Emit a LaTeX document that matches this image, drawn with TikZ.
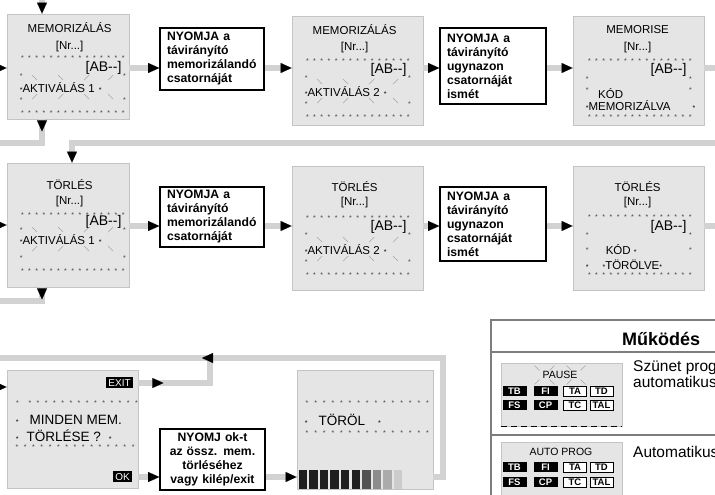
\documentclass[tikz,border=0pt]{standalone}
\usepackage{fontspec}
\setmainfont{Liberation Sans}
\usepackage{xcolor}
\definecolor{lcdg}{RGB}{229,229,229}
\definecolor{lcdb}{RGB}{196,196,196}
\definecolor{flowg}{RGB}{210,210,210}
\definecolor{frameg}{RGB}{125,125,125}
\usetikzlibrary{arrows.meta}

\newcommand{\lcdfont}{\fontsize{11.5}{13}\selectfont}
\newcommand{\bigfont}{\fontsize{13.5}{15}\selectfont}
\newcommand{\astfont}{\fontsize{7}{7}\selectfont}
\newcount\starcnt
\newcommand{\stars}[2]{\starcnt=#1\relax
  \loop\makebox[#2]{*}\advance\starcnt by -1\relax\ifnum\starcnt>0\repeat}
\newcommand{\blinkmarks}[3]{%
  \foreach \x/\d in {#3}{%
    \draw[blink] (\x-2.5,#1-2.5*\d) -- (\x+2.5,#1+2.5*\d);
    \draw[blink] (\x-2.5,#2+2.5*\d) -- (\x+2.5,#2-2.5*\d);}}
% screen with the blinking AKTIVALAS line
\newcommand{\aktscreen}[9]{%
  \begin{scope}[shift={(#1.north west)}]
    \node[lcdtext] (#1-title) at (63,#4) {#2};
    \node[lcdtext] (#1-nr) at (63,#5) {[Nr...]};
    \node[astx, anchor=west] (#1-row1) at (12,#6) {\stars{15}{7.2pt}};
    \node[abtext] (#1-ab) at (115,#7) {[AB{-}{-}]};
    \node[astx, anchor=west, text width=106pt] (#1-side1) at (13,#7+8) {*\hfill*};
    \node[lcdtext, anchor=west] (#1-key) at (13,#8) {\astfont*\lcdfont AKTIVÁLÁS #3\hspace{4pt}\astfont*};
    \blinkmarks{#8-10}{#8+9}{28/1,54/1,80/-1,104/-1}
    \node[astx, anchor=west, text width=106pt] (#1-side2) at (13,#9) {*\hfill*};
    \node[astx, anchor=west] (#1-row2) at (12,#9+13) {\stars{15}{7.2pt}};
  \end{scope}}

\tikzset{
  lcd/.style={draw=lcdb, fill=lcdg, line width=0.8pt, inner sep=0pt},
  cmd/.style={draw, line width=1.6pt, fill=white, inner xsep=7pt, inner ysep=0pt,
    align=left, font=\fontsize{12.2}{14}\selectfont\bfseries},
  conn/.style={draw=flowg, line width=6pt},
  connhead/.style={-{Triangle[length=11pt, width=10pt, color=black, line width=0.01pt]}},
  lcdtext/.style={inner sep=0pt, font=\lcdfont},
  lcdsmall/.style={inner sep=0pt, font=\fontsize{10.5}{11}\selectfont},
  abtext/.style={inner sep=0pt, anchor=east, font=\fontsize{14}{14}\selectfont},
  astx/.style={inner sep=0pt, font=\astfont, text=black!75},
  blink/.style={draw=black!35, line width=0.5pt},
  softkey/.style={fill=black, text=white, inner xsep=2pt, inner ysep=1pt,
    minimum height=11pt, font=\fontsize{10}{10}\selectfont},
  btnon/.style={fill=black, text=white, inner sep=0pt, minimum width=24pt,
    minimum height=10pt, font=\fontsize{9.5}{9.5}\selectfont\bfseries},
  btnoff/.style={draw, line width=1pt, fill=white, inner sep=0pt, minimum width=23pt,
    minimum height=10pt, font=\fontsize{9.5}{9.5}\selectfont\bfseries},
  legtext/.style={anchor=west, inner sep=0pt, font=\fontsize{15.5}{16}\selectfont}
}

\begin{document}
\begin{tikzpicture}[x=1pt, y=-1pt]
\path[use as bounding box, clip] (0,0) rectangle (715,495);

% screens
\node[lcd, minimum width=122pt, minimum height=105pt] (mem1) at (68,66.5) {};
\node[lcd, minimum width=131pt, minimum height=109pt] (mem2) at (357.5,70.5) {};
\node[lcd, minimum width=131pt, minimum height=109pt] (mem3) at (638.5,70.5) {};
\node[lcd, minimum width=122pt, minimum height=124pt] (del1) at (68,225) {};
\node[lcd, minimum width=131pt, minimum height=124pt] (del2) at (357.5,228) {};
\node[lcd, minimum width=131pt, minimum height=124pt] (del3) at (638.5,228) {};
\node[lcd, minimum width=131pt, minimum height=118pt] (all) at (72.5,429) {};
\node[lcd, minimum width=136pt, minimum height=119pt] (torol) at (365,429.5) {};

% what to press
\node[cmd, text width=90pt, minimum height=62pt] (nyom1) at (212,59) {NYOMJA a\\távirányító\\memorizálandó\\csatornáját};
\node[cmd, text width=92pt, minimum height=76pt] (nyom2) at (493,66) {NYOMJA a\\távirányító\\ugynazon\\csatornáját\\ismét};
\node[cmd, text width=90pt, minimum height=60pt] (nyom3) at (212,217) {NYOMJA a\\távirányító\\memorizálandó\\csatornáját};
\node[cmd, text width=92pt, minimum height=74pt] (nyom4) at (493,224) {NYOMJA a\\távirányító\\ugynazon\\csatornáját\\ismét};
\node[cmd, align=center, text width=91pt, minimum height=61pt] (nyomok) at (212.5,459.5) {NYOMJ ok-t\\az össz. mem.\\törléséhez\\vagy kilép/exit};

% screen contents
\aktscreen{mem1}{MEMORIZÁLÁS}{1}{14}{33}{44}{54}{74}{86}
\aktscreen{mem2}{MEMORIZÁLÁS}{2}{14}{32}{45}{54}{76}{88}
\aktscreen{del1}{TÖRLÉS}{1}{22}{39}{52}{59}{77}{95}
\aktscreen{del2}{TÖRLÉS}{2}{21}{37}{52}{61}{84}{96}

\begin{scope}[shift={(mem3.north west)}]
  \node[lcdtext] (mem3-title) at (65,14) {MEMORISE};
  \node[lcdtext] (mem3-nr) at (65,32) {[Nr...]};
  \node[astx, anchor=west] (mem3-row1) at (13,45) {\stars{15}{7.2pt}};
  \node[abtext] (mem3-ab) at (114,54) {[AB{-}{-}]};
  \node[astx, anchor=west, text width=106pt] (mem3-side1) at (13,63) {*\hfill*};
  \node[astx, anchor=west, text width=106pt] (mem3-side2) at (13,74) {*\hfill*};
  \node[lcdtext] (mem3-kod) at (38,78) {KÓD};
  \node[lcdtext, anchor=west] (mem3-done) at (13,90) {\astfont*\lcdfont MEMORIZÁLVA\hspace{22pt}\astfont*};
  \node[astx, anchor=west] (mem3-row2) at (13,101) {\stars{15}{7.2pt}};
\end{scope}

\begin{scope}[shift={(del3.north west)}]
  \node[lcdtext] (del3-title) at (65,21) {TÖRLÉS};
  \node[lcdtext] (del3-nr) at (65,37) {[Nr...]};
  \node[astx, anchor=west] (del3-row1) at (13,51) {\stars{15}{7.2pt}};
  \node[abtext] (del3-ab) at (114,61) {[AB{-}{-}]};
  \node[astx, anchor=west, text width=106pt] (del3-side1) at (13,69) {*\hfill*};
  \node[astx, anchor=west, text width=106pt] (del3-side2) at (13,84) {*\hfill*};
  \node[lcdtext, anchor=west] (del3-kod) at (33,84) {KÓD \astfont*};
  \node[lcdtext, anchor=west] (del3-done) at (13,99) {\astfont*\hspace{14pt}*\lcdfont TÖRÖLVE\astfont*};
  \node[astx, anchor=west] (del3-row2) at (13,109) {\stars{15}{7.2pt}};
\end{scope}

\begin{scope}[shift={(all.north west)}]
  \node[softkey] (exitkey) at (113,13) {EXIT};
  \node[astx] (all-st1) at (11,33) {*};
  \node[astx, anchor=west] (all-row1) at (19,33) {\stars{14}{8.2pt}};
  \node[anchor=west, inner sep=0pt] (all-q1) at (9,50) {\astfont*\hspace{11pt}\bigfont MINDEN MEM.};
  \node[anchor=west, inner sep=0pt] (all-q2) at (9,66) {\astfont*\hspace{8pt}\bigfont TÖRLÉSE ?\hspace{8pt}\astfont*};
  \node[astx, anchor=west] (all-row2) at (6,77) {\stars{15}{8.3pt}};
  \node[softkey] (okkey) at (116,107) {OK};
\end{scope}

\begin{scope}[shift={(torol.north west)}]
  \node[astx, anchor=west] (torol-row1) at (6,33) {\stars{15}{8.6pt}};
  \node[anchor=west, inner sep=0pt] (torol-msg) at (8,50) {\astfont*\hspace{11pt}\bigfont TÖRÖL\hspace{13pt}\astfont*};
  \node[astx, anchor=west] (torol-row2) at (6,63) {\stars{15}{8.6pt}};
  \foreach \i/\c in {0/black!88,1/black!88,2/black!88,3/black!88,4/black!88,5/black!88,6/black!68,7/black!45,8/black!33,9/black!20}
    \fill[fill=\c] (2+10.6*\i,100) rectangle ++(8.3,19);
\end{scope}

% connectors
\coordinate (r1) at (0,68);
\coordinate (r2) at (0,226);
\coordinate (r3) at (0,477);
\coordinate (in1) at (-12,68);
\coordinate (in2) at (-12,225);
\coordinate (in3) at (-12,387);
\coordinate (top1) at (42,-5);
\coordinate (out1) at (-12,143);
\coordinate (back1) at (727,143);
\coordinate (dtop) at (72,143);
\coordinate (out2) at (-12,301);
\coordinate (end1) at (727,68);
\coordinate (end2) at (727,226);
\coordinate (exitrow) at (0,383);
\coordinate (j) at (210,358);
\coordinate (k) at (443,358);
\coordinate (out3) at (-12,358);

\draw[conn, connhead] (top1) -- (top1 |- mem1.north);
\draw[conn, connhead] (in1) -- (mem1.west |- in1);
\draw[conn, connhead] (mem1.east |- r1) -- (nyom1.west |- r1);
\draw[conn, connhead] (nyom1.east |- r1) -- (mem2.west |- r1);
\draw[conn, connhead] (mem2.east |- r1) -- (nyom2.west |- r1);
\draw[conn, connhead] (nyom2.east |- r1) -- (mem3.west |- r1);
\draw[conn] (mem3.east |- r1) -- (end1);
\draw[conn] (top1 |- mem1.south) |- (out1);
\draw[conn, connhead] (top1 |- mem1.south) -- ++(0,12);

\draw[conn, connhead] (back1) -- (dtop) -- (dtop |- del1.north);
\draw[conn, connhead] (in2) -- (del1.west |- in2);
\draw[conn, connhead] (del1.east |- r2) -- (nyom3.west |- r2);
\draw[conn, connhead] (nyom3.east |- r2) -- (del2.west |- r2);
\draw[conn, connhead] (del2.east |- r2) -- (nyom4.west |- r2);
\draw[conn, connhead] (nyom4.east |- r2) -- (del3.west |- r2);
\draw[conn] (del3.east |- r2) -- (end2);
\draw[conn] (top1 |- del1.south) |- (out2);
\draw[conn, connhead] (top1 |- del1.south) -- ++(0,12);

\draw[conn] (torol.east |- r3) -| (k) -- (out3);
\draw[conn] (all.east |- exitrow) -| (j);
\draw[conn, connhead] (all.east |- exitrow) -- ++(25,0);
\draw[conn, connhead] ([xshift=3pt]j) -- ([xshift=-8pt]j);
\draw[conn, connhead] (in3) -- (all.west |- in3);
\draw[conn, connhead] (all.east |- r3) -- (nyomok.west |- r3);
\draw[conn, connhead] (nyomok.east |- r3) -- (torol.west |- r3);

% legend
\draw[frameg, line width=1.2pt] (491,505) |- (725,320);
\draw[frameg, line width=1.2pt] (491,352) -- (725,352);
\draw[frameg, line width=1.2pt] (491,435) -- (725,435);
\node[anchor=west, inner sep=0pt, font=\fontsize{18}{18}\selectfont\bfseries] (legtitle) at (622,339) {Működés};
\node[lcd, minimum width=121pt, minimum height=63pt] (pz) at (561.5,394.5) {};
\draw[dash pattern=on 6pt off 4pt, line width=0.9pt] (pz.south west) -- (pz.south east);
\node[lcd, minimum width=121pt, minimum height=63pt] (ap) at (561.5,473.5) {};
\node[lcdsmall] (pz-txt) at (560,375) {PAUSE};
\blinkmarks{368}{382}{537/1,552/-1,569/1,583/-1}
\node[lcdsmall] (ap-txt) at (561,452) {AUTO PROG};
\foreach \lc/\ya/\yb in {pz/391/405, ap/467/482}{
  \foreach \b/\x in {TB/514.5, FI/545.5}
    \node[btnon] (\lc-\b) at (\x,\ya) {\b};
  \foreach \b/\x in {TA/575, TD/601.5}
    \node[btnoff] (\lc-\b) at (\x,\ya) {\b};
  \foreach \b/\x in {FS/514.5, CP/545.5}
    \node[btnon] (\lc-\b) at (\x,\yb) {\b};
  \foreach \b/\x in {TC/575, TAL/601.5}
    \node[btnoff] (\lc-\b) at (\x,\yb) {\b};
}
\node[legtext] (leg1a) at (633,368) {Szünet program};
\node[legtext] (leg1b) at (633,382) {automatikus};
\node[legtext] (leg2a) at (633,452) {Automatikus};
\end{tikzpicture}
\end{document}
